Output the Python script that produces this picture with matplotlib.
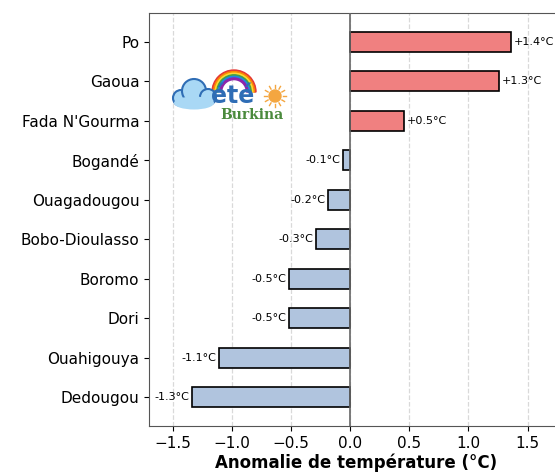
import numpy as np
import matplotlib.pyplot as plt
from matplotlib.patches import Circle, Wedge, Ellipse

stations = ["Po", "Gaoua", "Fada N'Gourma", "Bogandé", "Ouagadougou",
            "Bobo-Dioulasso", "Boromo", "Dori", "Ouahigouya", "Dedougou"]
anomalies = [1.36, 1.26, 0.46, -0.06, -0.19, -0.29, -0.52, -0.52, -1.11, -1.34]
labels = ["+1.4°C", "+1.3°C", "+0.5°C", "-0.1°C", "-0.2°C", "-0.3°C",
          "-0.5°C", "-0.5°C", "-1.1°C", "-1.3°C"]
xticks = [-1.5, -1.0, -0.5, 0.0, 0.5, 1.0, 1.5]

fig = plt.figure(figsize=(5.55, 4.73), dpi=100)
ax = fig.add_axes([149 / 555, 47 / 473, 414 / 555, 413 / 473])

y = np.arange(len(stations))[::-1]
colors = ["#F08080" if v > 0 else "#B0C4DE" for v in anomalies]
ax.barh(y, anomalies, height=0.5, color=colors, edgecolor="black", linewidth=1.2, zorder=3)
ax.axvline(0, color="#666666", linewidth=1.2, zorder=4)

for yi, v, lab in zip(y, anomalies, labels):
    if v > 0:
        ax.text(v + 0.02, yi, lab, ha="left", va="center", fontsize=8)
    else:
        ax.text(v - 0.02, yi, lab, ha="right", va="center", fontsize=8)

ax.set_yticks(y)
ax.set_yticklabels(stations, fontsize=11)
ax.set_xticks(xticks)
ax.tick_params(axis="x", labelsize=11)
ax.set_xlim(-1.7, 1.8)
ax.grid(axis="x", linestyle="--", color="#d9d9d9", linewidth=0.9, zorder=0)
ax.set_xlabel("Anomalie de température (°C)", fontsize=12, fontweight="bold", labelpad=2)
for s in ax.spines.values():
    s.set_color("#555555")

# logo "météo Burkina"
lg = fig.add_axes([168 / 555, 1 - 126 / 473, 122 / 555, 60 / 473])
lg.set_xlim(0, 122)
lg.set_ylim(60, 0)
lg.axis("off")
lg.patch.set_alpha(0)
rb = ["#e53935", "#fb8c00", "#fdd835", "#43a047", "#1e88e5", "#8e24aa"]
for i, c in enumerate(rb):
    lg.add_patch(Wedge((66, 26), 22 - i * 1.6, 180, 360, width=1.6, color=c))
for (cx, cy, r) in [(13, 32, 8), (26, 25, 12), (40, 31, 8)]:
    lg.add_patch(Circle((cx, cy), r, facecolor="#A9D8F5", edgecolor="#2F6DB5", lw=1.5))
lg.add_patch(Ellipse((26, 37), 40, 13, facecolor="#A9D8F5", edgecolor="none"))
lg.text(65, 30, "été", color="#2F6DB5", fontsize=17, fontweight="bold",
        ha="center", va="center")
lg.add_patch(Circle((107, 30), 6, color="#F4A640"))
for a in np.linspace(0, 2 * np.pi, 12, endpoint=False):
    lg.plot([107 + 8 * np.cos(a), 107 + 11 * np.cos(a)],
            [30 + 8 * np.sin(a), 30 + 11 * np.sin(a)], color="#F4A640", lw=1)
lg.text(84, 49, "Burkina", color="#4A8A3C", fontsize=10, family="DejaVu Serif",
        fontweight="bold", ha="center", va="center")

fig.savefig("out.png", dpi=100)
